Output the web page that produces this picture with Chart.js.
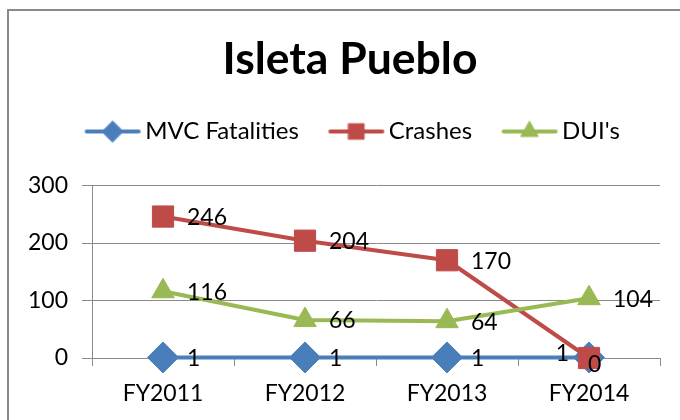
<!DOCTYPE html>
<html>
<head>
<meta charset="utf-8">
<script src="https://cdn.jsdelivr.net/npm/chart.js@4.4.1/dist/chart.umd.min.js"></script>
<style>
  html, body { margin: 0; background: #fff; }
  #wrap { position: relative; width: 680px; height: 420px; overflow: hidden; }
  #frame { position: absolute; left: 7px; top: 9px; width: 720px; height: 480px; border: 2px solid #8a8a8a; }
  #chart { position: absolute; left: 0; top: 0; }
</style>
</head>
<body>
<div id="wrap">
  <div id="frame"></div>
  <canvas id="chart" width="700" height="420"></canvas>
</div>
<script>
// data
const years = ["FY2011", "FY2012", "FY2013", "FY2014"];
const mvcFatalities = [1, 1, 1, 1];
const crashes = [246, 204, 170, 0];
const duis = [116, 66, 64, 104];
const yTicks = [0, 100, 200, 300];

const BLUE = "#4a7ebb", RED = "#be4b48", GREEN = "#98b954";
const FONT = "Lato";

// legend icon: line with marker in the middle
function legendIcon(color, style, r) {
  const c = document.createElement("canvas");
  c.width = 58; c.height = 24;
  const g = c.getContext("2d");
  g.strokeStyle = color; g.lineWidth = 4; g.lineCap = "round";
  g.beginPath(); g.moveTo(3, 12); g.lineTo(55, 12); g.stroke();
  g.fillStyle = color; g.lineWidth = 1;
  Chart.helpers.drawPoint(g, { pointStyle: style, radius: r, borderWidth: 1 }, 29, 12);
  return c;
}
const icons = [
  legendIcon(BLUE, "rectRot", 10.5),
  legendIcon(RED, "rect", 11),
  legendIcon(GREEN, "triangle", 10)
];

// labels next to the points, a couple are nudged like the original
const labelShift = {
  "0-3": { dx: -20, dy: -4, align: "right" },
  "1-3": { dx: -1, dy: 7, align: "left" }
};

const pointLabels = {
  id: "pointLabels",
  afterDatasetsDraw(chart) {
    const ctx = chart.ctx;
    ctx.save();
    ctx.font = "23px " + FONT;
    ctx.fillStyle = "#000";
    ctx.textBaseline = "middle";
    chart.data.datasets.forEach((ds, di) => {
      chart.getDatasetMeta(di).data.forEach((pt, i) => {
        const s = labelShift[di + "-" + i] || { dx: 24, dy: 1, align: "left" };
        ctx.textAlign = s.align;
        ctx.fillText(String(ds.data[i]), pt.x + s.dx, pt.y + s.dy);
      });
    });
    ctx.restore();
  }
};

// extra room under the legend, and nudge it a bit to the right
const legendGap = {
  id: "legendGap",
  beforeLayout(chart) {
    const lg = chart.legend;
    if (lg && !lg._gapped) {
      const fit = lg.fit;
      lg.fit = function () { fit.call(this); this.height += 32; };
      lg._gapped = true;
    }
  },
  afterLayout(chart) {
    chart.legend.left += 6;
    chart.legend.right += 6;
  }
};

// lower order is drawn on top: DUI over Crashes over MVC, as in the original
new Chart(document.getElementById("chart"), {
  type: "line",
  data: {
    labels: years,
    datasets: [
      { label: "MVC Fatalities", data: mvcFatalities, borderColor: BLUE, backgroundColor: BLUE,
        pointStyle: "rectRot", pointRadius: 15.5, order: 3 },
      { label: "Crashes", data: crashes, borderColor: RED, backgroundColor: RED,
        pointStyle: "rect", pointRadius: 15, order: 2 },
      { label: "DUI's", data: duis, borderColor: GREEN, backgroundColor: GREEN,
        pointStyle: "triangle", pointRadius: 13, order: 1 }
    ]
  },
  options: {
    responsive: false,
    devicePixelRatio: 1,
    animation: false,
    datasets: { line: { borderWidth: 4, tension: 0, pointBorderWidth: 1, borderJoinStyle: "round", clip: false } },
    layout: { padding: 0 },
    plugins: {
      tooltip: { enabled: false },
      title: {
        display: true, text: "Isleta Pueblo", color: "#000",
        font: { family: FONT, size: 44.5, weight: "bold", lineHeight: 1 },
        padding: { top: 37, bottom: 1 }
      },
      legend: {
        display: true,
        labels: {
          color: "#000", font: { family: FONT, size: 24 },
          usePointStyle: true, pointStyleWidth: 41, padding: 37,
          sort: (a, b) => a.datasetIndex - b.datasetIndex,
          generateLabels(chart) {
            const items = Chart.defaults.plugins.legend.labels.generateLabels(chart);
            items.forEach(it => { it.pointStyle = icons[it.datasetIndex]; });
            return items;
          }
        }
      }
    },
    scales: {
      x: {
        offset: true,
        grid: { offset: true, drawOnChartArea: false, tickLength: 8, color: "#8a8a8a" },
        border: { color: "#8a8a8a" },
        ticks: { color: "#000", font: { family: FONT, size: 23 }, padding: 14, maxRotation: 0 },
        afterFit(s) { s.height = 62; }
      },
      y: {
        min: 0, max: 300,
        grid: { color: "#8a8a8a", tickLength: 10 },
        border: { color: "#8a8a8a" },
        afterBuildTicks(s) { s.ticks = yTicks.map(v => ({ value: v })); },
        ticks: { color: "#000", font: { family: FONT, size: 23 }, padding: 14 },
        afterFit(s) { s.width = 92; }
      },
      // empty right-hand axis: only keeps the plot clear of the right edge
      yRight: {
        position: "right",
        grid: { display: false },
        border: { display: false },
        ticks: { display: false },
        afterFit(s) { s.width = 40; }
      }
    }
  },
  plugins: [pointLabels, legendGap]
});
</script>
</body>
</html>
